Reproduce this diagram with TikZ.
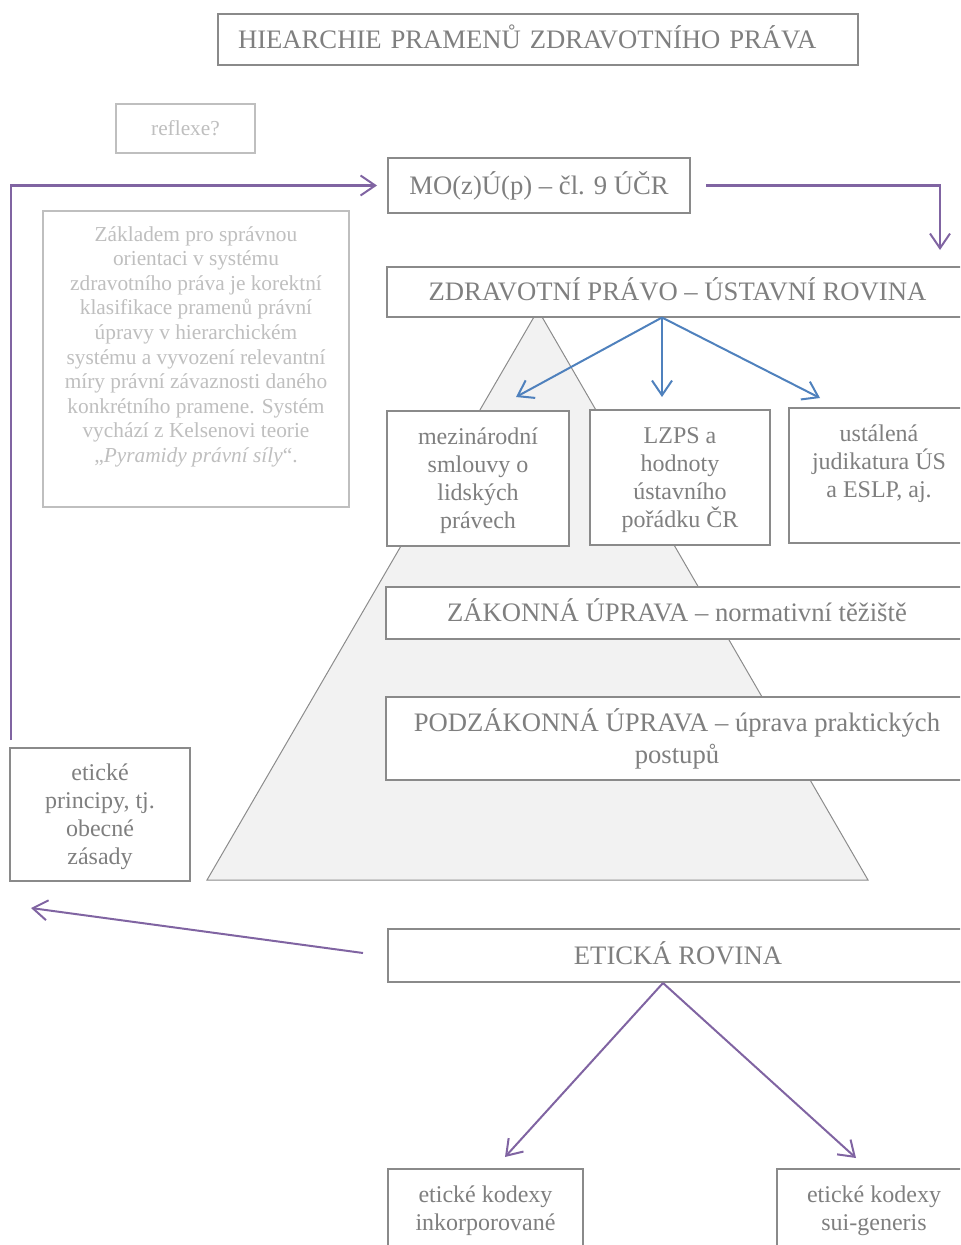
\documentclass[tikz,border=0pt]{standalone}
\usepackage{fontspec}
\setmainfont{Liberation Serif}
\usetikzlibrary{arrows.meta,calc}

\definecolor{txtgray}{HTML}{7F7F7F}
\definecolor{edgegray}{HTML}{8A8A8A}
\definecolor{faintgray}{HTML}{BFBFBF}
\definecolor{pyrfill}{HTML}{F2F2F2}
\definecolor{pyredge}{HTML}{8C8C8C}
\definecolor{arrowpurple}{HTML}{8064A2}
\definecolor{arrowblue}{HTML}{4F81BD}

% extra room above the first line of the small boxes
\newcommand{\firstline}{\rule{0pt}{18.5pt}}

\tikzset{
  box/.style={draw=edgegray, line width=1.5pt, fill=white, text=txtgray,
    align=center, inner sep=0pt},
  big/.style={font=\fontsize{20pt}{24pt}\selectfont},
  oneline/.style={big, text height=15.2pt, text depth=2pt},
  small/.style={font=\fontsize{18pt}{21pt}\selectfont},
  faintbox/.style={draw=faintgray, line width=1.5pt, fill=white, text=faintgray,
    align=center, inner sep=0pt, font=\fontsize{16pt}{18.45pt}\selectfont},
  parrow/.style={draw=arrowpurple, line width=1.5pt,
    -{Straight Barb[length=11pt,width=15pt]}},
  barrow/.style={draw=arrowblue, line width=1.5pt,
    -{Straight Barb[length=11pt,width=15pt]}},
}

\begin{document}
\begin{tikzpicture}[x=0.75pt,y=-0.75pt]
\useasboundingbox (0,0) rectangle (960,1245);
\clip (0,0) rectangle (960,1245);

% pyramid of legal force
\filldraw[fill=pyrfill, draw=pyredge, line width=0.75pt]
  (538,310) -- (207,880) -- (868,880) -- cycle;

% heading
\node[box, oneline, text width=450pt, align=left, inner xsep=15pt,
  minimum height=38.25pt] (title) at (538,39.5)
  {HIEARCHIE PRAMENŮ ZDRAVOTNÍHO PRÁVA};

% side notes
\node[faintbox, minimum width=104.25pt, minimum height=36.75pt]
  (reflex) at (185.5,128.5) {reflexe?};
\node[faintbox, minimum width=229.5pt, minimum height=222pt]
  (parabox) at (196,359) {};
\node[text=faintgray, align=center, inner sep=0pt, anchor=north,
  font=\fontsize{16pt}{18.45pt}\selectfont] (paratext) at (196,226)
  {Základem pro správnou\\ orientaci v systému\\ zdravotního práva je korektní\\
   klasifikace pramenů právní\\ úpravy v hierarchickém\\ systému a vyvození relevantní\\
   míry právní závaznosti daného\\ konkrétního pramene. Systém\\
   vychází z Kelsenovi teorie\\ „\textit{Pyramidy právní síly}“.};

% main levels
\node[box, oneline, minimum width=226.5pt, minimum height=41.25pt]
  (mo) at (539,185.5) {MO(z)Ú(p) – čl. 9 ÚČR};
\node[box, oneline, minimum width=435.75pt, minimum height=37.5pt]
  (zdr) at (677.5,291.5) {ZDRAVOTNÍ PRÁVO – ÚSTAVNÍ ROVINA};
\node[box, small, minimum width=136.5pt, minimum height=101.25pt]
  (mez) at (478,478.5) {\firstline mezinárodní\\ smlouvy o\\ lidských\\ právech\strut};
\node[box, small, minimum width=135pt, minimum height=101.25pt]
  (lzps) at (680,477.5) {\firstline LZPS a\\ hodnoty\\ ústavního\\ pořádku ČR\strut};
\node[box, small, minimum width=135pt, minimum height=101.25pt]
  (ust) at (879,475.5) {\firstline ustálená\\ judikatura ÚS\\ a ESLP, aj.\\ \strut};
\node[box, oneline, minimum width=436.5pt, minimum height=39pt]
  (zak) at (677,613) {ZÁKONNÁ ÚPRAVA – normativní těžiště};
\node[box, big, minimum width=436.5pt, minimum height=62.25pt]
  (podz) at (677,738.5) {PODZÁKONNÁ ÚPRAVA – úprava praktických\\ postupů};
\node[box, small, minimum width=135pt, minimum height=99.75pt]
  (princ) at (100,814.5) {\firstline etické\\ principy, tj.\\ obecné\\ zásady\strut};
\node[box, oneline, minimum width=435pt, minimum height=39.75pt]
  (etr) at (678,955.5) {ETICKÁ ROVINA};
\node[box, small, minimum width=146.25pt, minimum height=101.25pt]
  (inkorp) at (485.5,1236.5) {\firstline etické kodexy\\ inkorporované\\ \\ \strut};
\node[box, small, minimum width=145.5pt, minimum height=101.25pt]
  (sui) at (874,1236.5) {\firstline etické kodexy\\ sui-generis\\ \\ \strut};

% free ends of connectors
\coordinate (loopstart) at (11,740);
\coordinate (zdrin) at (940,250);
\coordinate (tipmez) at (516,397);
\coordinate (tiplzps) at (662,397);
\coordinate (tipust) at (820,398);
\coordinate (tipprinc) at (31,908);
\coordinate (tipinkorp) at (505,1157);
\coordinate (tipsui) at (856,1158);

% connectors
\draw[parrow] (loopstart) |- ($(mo.west)+(-10,0)$);
\draw[parrow] ($(mo.east)+(15,0)$) -| (zdrin);
\draw[barrow] ($(zdr.south)+(-15.5,0)$) -- (tipmez);
\draw[barrow] ($(zdr.south)+(-15.5,0)$) -- (tiplzps);
\draw[barrow] ($(zdr.south)+(-15.5,0)$) -- (tipust);
\draw[parrow] ($(etr.west)+(-24,-2.5)$) -- (tipprinc);
\draw[parrow] ($(etr.south)+(-15,0)$) -- (tipinkorp);
\draw[parrow] ($(etr.south)+(-15,0)$) -- (tipsui);
\end{tikzpicture}
\end{document}
